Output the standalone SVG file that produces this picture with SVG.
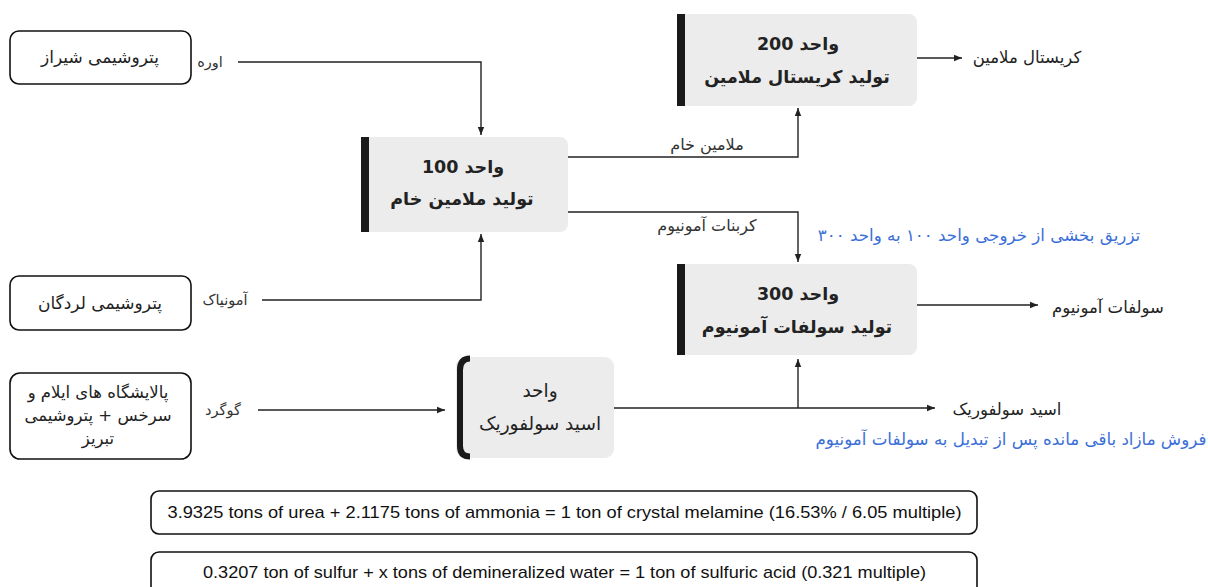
<svg xmlns="http://www.w3.org/2000/svg" width="1208" height="587" viewBox="0 0 1208 587">
<style>
.src{fill:#fff;stroke:#111;stroke-width:1.6}
.unit{fill:#ececec}
.bar{fill:#1a1a1a}
.fa{font-family:"DejaVu Sans",sans-serif;fill:#222}
.t17{font-size:17px}
.t16{font-size:16.5px}
.lbl{font-size:14.5px;fill:#333}
.lbm{font-size:16px;fill:#333}
.lbr{font-size:16.5px;fill:#222}
.b{font-weight:bold;font-size:17.5px}
.acid{font-size:18.5px}
.blue{fill:#3a6fd8;font-size:16.7px}
.en{font-family:"Liberation Sans Narrow","Liberation Sans",sans-serif;font-size:17px;fill:#111}
.ln{fill:none;stroke:#222;stroke-width:1.4}
</style>
<defs>
<marker id="ah" viewBox="0 0 10 10" refX="10" refY="5" markerWidth="8" markerHeight="8" markerUnits="userSpaceOnUse" orient="auto">
<path d="M0,1 L10,5 L0,9 z" fill="#222"/>
</marker>
</defs>

<g id="src-shiraz">
<rect class="src" x="10" y="31" width="181" height="53" rx="9"/>
<text class="fa t17" x="100" y="63" text-anchor="middle" direction="rtl">پتروشیمی شیراز</text>
</g>
<g id="src-lordegan">
<rect class="src" x="10" y="276" width="181" height="54" rx="9"/>
<text class="fa t17" x="100" y="309" text-anchor="middle" direction="rtl">پتروشیمی لردگان</text>
</g>
<g id="src-refinery">
<rect class="src" x="10" y="373" width="181" height="86" rx="10"/>
<text class="fa t16" x="98" y="398" text-anchor="middle" direction="rtl">پالایشگاه های ایلام و</text>
<text class="fa t16" x="98" y="421" text-anchor="middle" direction="rtl">سرخس + پتروشیمی</text>
<text class="fa t16" x="98" y="444" text-anchor="middle" direction="rtl">تبریز</text>
</g>

<g id="unit100">
<rect class="unit" x="362" y="137" width="206" height="95" rx="8"/>
<rect class="bar" x="361" y="137" width="8" height="95"/>
<text class="fa b" x="463" y="173" text-anchor="middle" direction="rtl">واحد  100</text>
<text class="fa b" x="462" y="205" text-anchor="middle" direction="rtl">تولید ملامین خام</text>
</g>
<g id="unit200">
<rect class="unit" x="678" y="14" width="239" height="92" rx="8"/>
<rect class="bar" x="677" y="14" width="8" height="92"/>
<text class="fa b" x="798" y="50" text-anchor="middle" direction="rtl">واحد  200</text>
<text class="fa b" x="797" y="83" text-anchor="middle" direction="rtl">تولید کریستال ملامین</text>
</g>
<g id="unit300">
<rect class="unit" x="678" y="264" width="239" height="91" rx="8"/>
<rect class="bar" x="677" y="264" width="8" height="91"/>
<text class="fa b" x="798" y="300" text-anchor="middle" direction="rtl">واحد 300</text>
<text class="fa b" x="797" y="333" text-anchor="middle" direction="rtl">تولید سولفات آمونیوم</text>
</g>
<g id="unit-acid">
<rect class="unit" x="456" y="357" width="158" height="101" rx="9"/>
<path d="M470,358.5 Q460,358.5 460,370 L460,446 Q460,456.5 470,456.5" fill="none" stroke="#1a1a1a" stroke-width="6"/>
<text class="fa acid" x="540" y="397" text-anchor="middle" direction="rtl">واحد</text>
<text class="fa acid" x="540" y="430" text-anchor="middle" direction="rtl">اسید سولفوریک</text>
</g>

<g id="connectors">
<path class="ln" d="M238,62 H481 V135" marker-end="url(#ah)"/>
<path class="ln" d="M262,300 H481 V234" marker-end="url(#ah)"/>
<path class="ln" d="M258,410 H445" marker-end="url(#ah)"/>
<path class="ln" d="M568,157 H798 V108" marker-end="url(#ah)"/>
<path class="ln" d="M568,212 H798 V262" marker-end="url(#ah)"/>
<path class="ln" d="M917,58 H962" marker-end="url(#ah)"/>
<path class="ln" d="M917,305 H1038" marker-end="url(#ah)"/>
<path class="ln" d="M614,408 H935" marker-end="url(#ah)"/>
<path class="ln" d="M798,408 V359" marker-end="url(#ah)"/>
</g>

<g id="labels">
<text class="fa lbl" x="210" y="67" text-anchor="middle" direction="rtl">اوره</text>
<text class="fa lbl" x="225" y="305" text-anchor="middle" direction="rtl">آمونیاک</text>
<text class="fa lbl" x="223" y="415" text-anchor="middle" direction="rtl">گوگرد</text>
<text class="fa lbm" x="707" y="150" text-anchor="middle" direction="rtl">ملامین خام</text>
<text class="fa lbm" x="707" y="231" text-anchor="middle" direction="rtl">کربنات آمونیوم</text>
<text class="fa lbr" x="1027" y="63" text-anchor="middle" direction="rtl">کریستال ملامین</text>
<text class="fa lbr" x="1108" y="313" text-anchor="middle" direction="rtl">سولفات آمونیوم</text>
<text class="fa lbr" x="1007" y="415" text-anchor="middle" direction="rtl">اسید سولفوریک</text>
<text class="fa blue" x="979" y="241" text-anchor="middle" direction="rtl">تزریق بخشی از خروجی واحد ۱۰۰ به واحد ۳۰۰</text>
<text class="fa blue" x="1011" y="445" text-anchor="middle" direction="rtl">فروش مازاد باقی مانده پس از تبدیل به سولفات آمونیوم</text>
</g>

<g id="note1">
<rect class="src" x="151" y="491" width="826" height="43" rx="8"/>
<text class="en" x="564.5" y="518" text-anchor="middle" textLength="794" lengthAdjust="spacingAndGlyphs">3.9325 tons of urea + 2.1175 tons of ammonia = 1 ton of crystal melamine (16.53% / 6.05 multiple)</text>
</g>
<g id="note2">
<rect class="src" x="151" y="552" width="826" height="45" rx="8"/>
<text class="en" x="564.5" y="578" text-anchor="middle" textLength="723" lengthAdjust="spacingAndGlyphs">0.3207 ton of sulfur + x tons of demineralized water = 1 ton of sulfuric acid (0.321 multiple)</text>
</g>
</svg>
